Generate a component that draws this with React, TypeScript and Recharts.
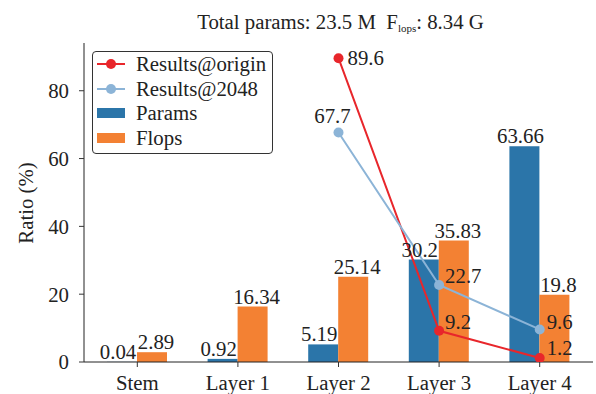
import React from 'react'
import { ComposedChart, Bar, Line, XAxis, YAxis, Legend, LabelList, Label } from 'recharts'

const categories = ['Stem', 'Layer 1', 'Layer 2', 'Layer 3', 'Layer 4']
const params = [0.04, 0.92, 5.19, 30.2, 63.66]
const flops = [2.89, 16.34, 25.14, 35.83, 19.8]
const resultsOrigin = [null, null, 89.6, 9.2, 1.2]
const results2048 = [null, null, 67.7, 22.7, 9.6]
const yTicks = [0, 20, 40, 60, 80]

const FONT = 'Liberation Serif, Times New Roman, serif'
const TEXT = '#222'
const BLUE = '#2b75a9'
const ORANGE = '#f38133'
const RED = '#e8262b'
const LIGHT_BLUE = '#8cb4d7'

const data = categories.map((name, i) => ({
  name,
  params: params[i],
  flops: flops[i],
  origin: resultsOrigin[i],
  r2048: results2048[i],
}))

const legendItems = [
  { name: 'Results@origin', color: RED, kind: 'line' },
  { name: 'Results@2048', color: LIGHT_BLUE, kind: 'line' },
  { name: 'Params', color: BLUE, kind: 'bar' },
  { name: 'Flops', color: ORANGE, kind: 'bar' },
]

const txt = { fontFamily: FONT, fontSize: 20.8 }

const renderLegend = () => (
  <div
    style={{
      boxSizing: 'border-box',
      width: 181,
      border: '1px solid #333',
      borderRadius: 4,
      background: 'rgba(255,255,255,0.85)',
      padding: '0 4px 3px 4px',
      ...txt,
      color: TEXT,
    }}
  >
    {legendItems.map((it) => (
      <div key={it.name} style={{ display: 'flex', alignItems: 'center', height: 24.5 }}>
        <svg width={28} height={14} style={{ flex: 'none' }}>
          {it.kind === 'line' ? (
            <>
              <line x1={0} y1={7} x2={28} y2={7} stroke={it.color} strokeWidth={2} />
              <circle cx={14} cy={7} r={5} fill={it.color} />
            </>
          ) : (
            <rect x={0} y={2} width={28} height={10} fill={it.color} />
          )}
        </svg>
        <span style={{ marginLeft: 11, lineHeight: '20px', fontFamily: FONT }}>{it.name}</span>
      </div>
    ))}
  </div>
)

// offsets for the line value labels, by category index
const originOffsets: Record<number, [number, number, string]> = {
  2: [9, 7, 'start'],
  3: [6, -2, 'start'],
  4: [7, -3, 'start'],
}
const r2048Offsets: Record<number, [number, number, string]> = {
  2: [-6, -9, 'middle'],
  3: [6, -2, 'start'],
  4: [7, 0, 'start'],
}

const lineLabel = (offsets: Record<number, [number, number, string]>) => (props: any) => {
  const { x, y, value, index } = props
  if (value == null || !offsets[index]) return null
  const [dx, dy, anchor] = offsets[index]
  return (
    <text x={x + dx} y={y + dy} textAnchor={anchor as any} style={txt} fill={TEXT}>
      {value}
    </text>
  )
}

const barLabel = (shift: number) => (props: any) => {
  const { x, y, width, value } = props
  return (
    <text x={x + width / 2 + shift} y={y - 3} textAnchor="middle" style={txt} fill={TEXT}>
      {value}
    </text>
  )
}

export default function App() {
  return (
    <div style={{ position: 'absolute', left: 0, top: 0, width: 596, height: 394, background: '#fff', fontFamily: FONT }}>
      <div
        style={{
          position: 'absolute',
          left: 86,
          top: 12,
          width: 509,
          textAlign: 'center',
          ...txt,
          lineHeight: '20px',
          color: TEXT,
          zIndex: 2,
        }}
      >
        Total params: 23.5 M&nbsp;&nbsp;F<sub style={{ fontSize: 11, verticalAlign: '-3px' }}>lops</sub>: 8.34 G
      </div>
      <ComposedChart
        width={596}
        height={394}
        data={data}
        margin={{ top: 43, right: 3, left: 0, bottom: 0 }}
        barGap={0}
        style={{ fontFamily: FONT }}
      >
        <XAxis
          dataKey="name"
          height={32}
          padding={{ left: 3, right: 3 }}
          tick={{ style: txt, fill: TEXT }}
          tickSize={5}
          tickMargin={8}
          axisLine={{ stroke: '#222' }}
          tickLine={{ stroke: '#333' }}
        />
        <XAxis xAxisId="top" orientation="top" dataKey="name" height={0} tick={false} tickLine={false} axisLine={{ stroke: '#222' }} />
        <YAxis
          width={84}
          domain={[0, 94.08]}
          ticks={yTicks}
          allowDataOverflow
          tick={{ style: txt, fill: TEXT }}
          tickSize={5}
          tickMargin={10}
          axisLine={{ stroke: '#222' }}
          tickLine={{ stroke: '#333' }}
        >
          <Label
            content={() => (
              <text x={33} y={203} transform="rotate(-90, 33, 203)" textAnchor="middle" style={txt} fill={TEXT}>
                Ratio (%)
              </text>
            )}
          />
        </YAxis>
        <YAxis yAxisId="right" orientation="right" width={0} domain={[0, 94.08]} tick={false} tickLine={false} axisLine={{ stroke: '#222' }} />
        <Legend
          layout="vertical"
          align="center"
          verticalAlign="middle"
          content={renderLegend}
          wrapperStyle={{ left: 92, top: 51, width: 181 }}
        />
        <Bar dataKey="params" name="Params" fill={BLUE} barSize={30} isAnimationActive={false}>
          <LabelList dataKey="params" content={barLabel(-4)} />
        </Bar>
        <Bar dataKey="flops" name="Flops" fill={ORANGE} barSize={30} isAnimationActive={false}>
          <LabelList dataKey="flops" content={barLabel(4)} />
        </Bar>
        <Line
          dataKey="origin"
          name="Results@origin"
          stroke={RED}
          strokeWidth={2}
          dot={{ r: 5, fill: RED, stroke: 'none' }}
          activeDot={false}
          isAnimationActive={false}
        >
          <LabelList dataKey="origin" content={lineLabel(originOffsets)} />
        </Line>
        <Line
          dataKey="r2048"
          name="Results@2048"
          stroke={LIGHT_BLUE}
          strokeWidth={2}
          dot={{ r: 5, fill: LIGHT_BLUE, stroke: 'none' }}
          activeDot={false}
          isAnimationActive={false}
        >
          <LabelList dataKey="r2048" content={lineLabel(r2048Offsets)} />
        </Line>
      </ComposedChart>
    </div>
  )
}
